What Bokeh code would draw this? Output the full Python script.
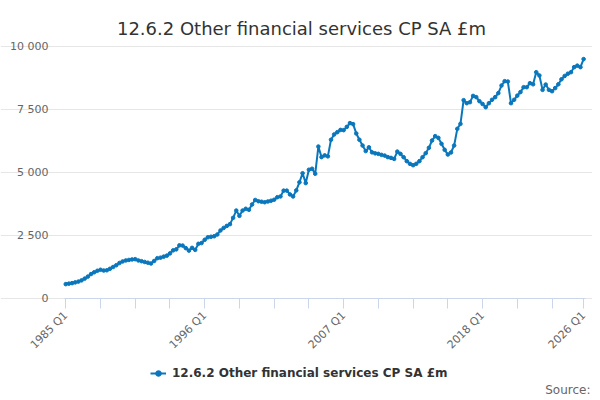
import math
from bokeh.plotting import figure
from bokeh.models import (Range1d, FixedTicker, Legend, LegendItem,
                          Label, ColumnDataSource)
from bokeh.embed import file_html
from bokeh.resources import INLINE

title_text = "12.6.2 Other financial services CP SA £m"
series_name = "12.6.2 Other financial services CP SA £m"
source_text = "Source:"

values = [
    570, 590, 610, 640, 670, 720, 790, 870, 970, 1040,
    1100, 1140, 1110, 1120, 1180, 1250, 1320, 1410, 1470, 1510,
    1530, 1550, 1560, 1510, 1480, 1450, 1420, 1390, 1490, 1600,
    1620, 1660, 1700, 1790, 1910, 1950, 2110, 2100, 2000, 1900,
    2010, 1930, 2170, 2200, 2330, 2430, 2450, 2470, 2540, 2700,
    2800, 2880, 2950, 3200, 3490, 3280, 3490, 3560, 3520, 3730,
    3910, 3860, 3840, 3820, 3850, 3880, 3920, 4020, 4050, 4280,
    4280, 4130, 4050, 4290, 4610, 4970, 4580, 5110, 5150, 4950,
    6030, 5610, 5680, 5640, 6300, 6510, 6600, 6690, 6680, 6810,
    6960, 6920, 6550, 6300, 6070, 5850, 6000, 5800, 5760, 5740,
    5700, 5670, 5610, 5580, 5540, 5830, 5740, 5607, 5450, 5344,
    5290, 5344, 5450, 5607, 5767, 5980, 6270, 6442, 6375, 6138,
    5900, 5714, 5794, 6070, 6733, 6930, 7870, 7750, 7790, 8040,
    7990, 7830, 7720, 7590, 7750, 7885, 7990, 8150, 8452, 8624,
    8610, 7750, 7885, 8050, 8190, 8385, 8385, 8545, 8500, 8980,
    8850, 8280, 8490, 8280, 8226, 8350, 8500, 8700, 8830, 8920,
    8980, 9180, 9240, 9180, 9500,
]

start_year = 1985
quarters = [f"{start_year + i // 4} Q{i % 4 + 1}" for i in range(len(values))]
index = list(range(len(values)))

label_ticks = [0, 44, 88, 132, 164]
minor_ticks = [11, 22, 33, 55, 66, 77, 99, 110, 121, 143, 154]

y_ticks = [0, 2500, 5000, 7500, 10000]
y_tick_labels = ["0", "2 500", "5 000", "7 500", "10 000"]

line_color = "#0a77bd"
font = "DejaVu Sans"

# page layout in pixels: the plotting band spans x 64..585, y 46..298
W, H = 592, 396
band_l, band_r, band_t, band_b = 64, 585, 46, 298
x_lo, x_hi = -0.4, len(values) - 0.4
y_lo, y_hi = 0, 10000
kx = (x_hi - x_lo) / (band_r - band_l)
ky = (y_hi - y_lo) / (band_b - band_t)
x_start = x_lo - band_l * kx
x_end = x_hi + (W - band_r) * kx
y_start = y_lo - (H - band_b) * ky
y_end = y_hi + band_t * ky

src = ColumnDataSource(data=dict(x=index, y=values, q=quarters))

p = figure(width=W, height=H, output_backend="svg", toolbar_location=None,
           title=None, x_range=Range1d(x_start, x_end),
           y_range=Range1d(y_start, y_end),
           min_border=0)
p.outline_line_color = None
p.background_fill_color = "white"
p.border_fill_color = "white"

r_line = p.line("x", "y", source=src, line_color=line_color, line_width=2)
r_pts = p.scatter("x", "y", source=src, size=3.6, fill_color=line_color,
                  line_color=line_color)

# x axis, pinned at y = 0
xa = p.xaxis[0]
xa.fixed_location = y_lo
xa.bounds = (x_lo, x_hi)
xa.ticker = FixedTicker(ticks=label_ticks, minor_ticks=minor_ticks)
xa.major_label_overrides = {t: quarters[t] for t in label_ticks}
xa.major_label_orientation = math.pi / 4
xa.axis_line_color = "#ccd6eb"
xa.axis_line_width = 1
xa.major_tick_line_color = "#ccd6eb"
xa.minor_tick_line_color = "#ccd6eb"
xa.major_tick_line_width = 1
xa.minor_tick_line_width = 1
xa.major_tick_in = 0
xa.major_tick_out = 10
xa.minor_tick_in = 0
xa.minor_tick_out = 10
xa.major_label_text_font = font
xa.major_label_text_font_size = "11px"
xa.major_label_text_color = "#666666"
xa.major_label_standoff = 5

# y axis, pinned at the left edge of the band
ya = p.yaxis[0]
ya.fixed_location = x_lo
ya.bounds = (y_lo, y_hi)
ya.ticker = FixedTicker(ticks=y_ticks)
ya.major_label_overrides = {t: l for t, l in zip(y_ticks, y_tick_labels)}
ya.axis_line_color = None
ya.major_tick_line_color = None
ya.minor_tick_line_color = None
ya.major_tick_out = 0
ya.major_tick_in = 0
ya.major_label_standoff = 16
ya.major_label_text_font = font
ya.major_label_text_font_size = "11px"
ya.major_label_text_color = "#666666"

p.xgrid.grid_line_color = None
p.ygrid.ticker = FixedTicker(ticks=y_ticks)
p.ygrid.bounds = (x_lo, x_hi)
p.ygrid.grid_line_color = "#e6e6e6"
p.ygrid.grid_line_width = 1

# title
p.add_layout(Label(x=W / 2 + 5, y=H - 27.5, x_units="screen", y_units="screen",
                   text=title_text, text_align="center",
                   text_baseline="alphabetic", text_font=font,
                   text_font_size="18px", text_color="#333333"))

legend = Legend(items=[LegendItem(label=series_name, renderers=[r_line, r_pts])],
                location=(150, H - 380), orientation="horizontal",
                padding=0, margin=0, spacing=0,
                glyph_width=16, glyph_height=14, label_height=14,
                label_standoff=6,
                label_text_font=font, label_text_font_size="12px",
                label_text_font_style="bold", label_text_color="#333333",
                border_line_color=None, background_fill_alpha=0)
p.add_layout(legend, "center")

p.add_layout(Label(x=W - 2, y=H - 389, x_units="screen",
                   y_units="screen", text=source_text, text_align="right",
                   text_baseline="middle", text_font=font,
                   text_font_size="12px", text_color="#666666"))

open("out.html", "w").write(file_html(p, INLINE))
